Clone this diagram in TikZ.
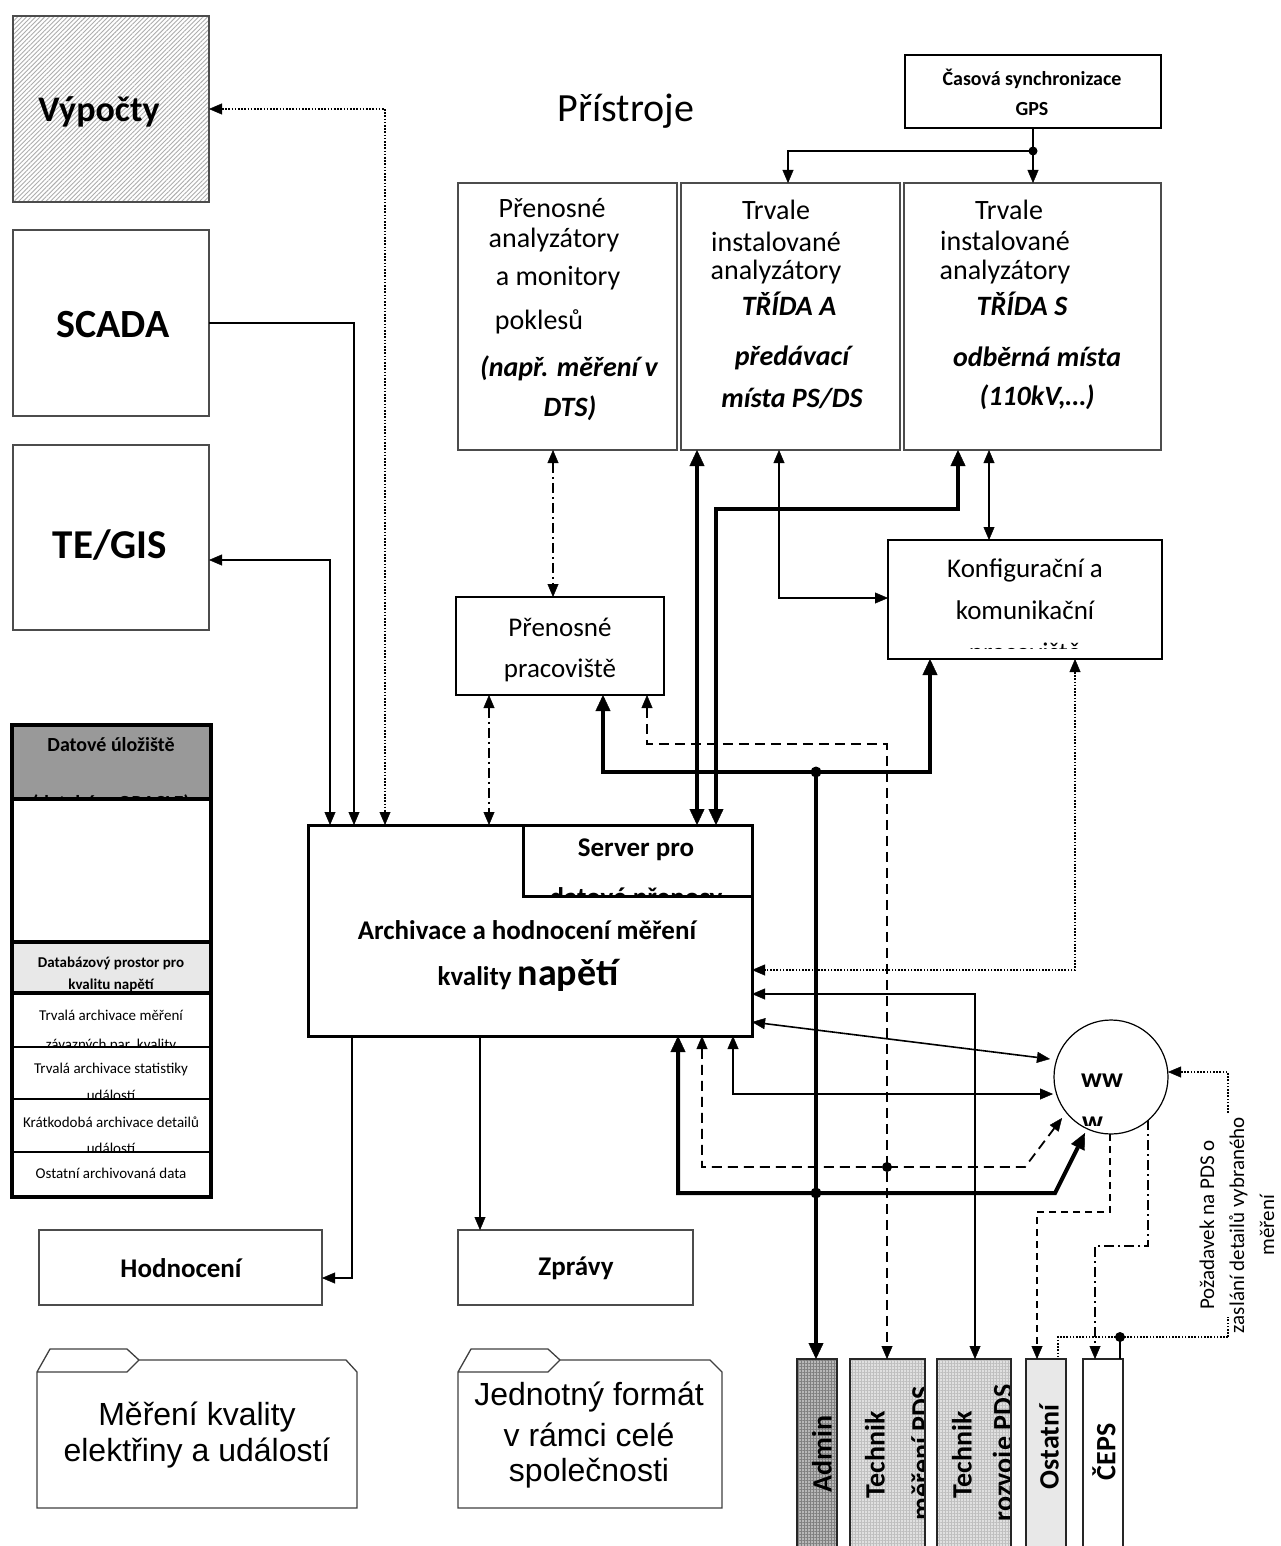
\documentclass[tikz,border=0pt]{standalone}
\usepackage{fontspec}
\setmainfont{Carlito}
\newfontfamily\arialf{Liberation Sans}
\usetikzlibrary{arrows.meta,patterns.meta}
\tikzset{
  Tn/.tip={Triangle[length=13pt,width=11pt,line width=0.4pt]},
  Tk/.tip={Triangle[length=16pt,width=15pt,line width=0.4pt]},
  boxbase/.style={rectangle, inner sep=0pt, outer sep=0pt},
  bxthin/.style={boxbase, draw=black!70, line width=1.3pt},
  bxmed/.style={boxbase, draw=black, line width=2pt},
  bxthk/.style={boxbase, draw=black, line width=3pt},
  bxheavy/.style={boxbase, draw=black, line width=4.5pt},
  ubox/.style={boxbase, draw=black!85, line width=2pt},
  txt/.style={inner sep=0pt, outer sep=0pt},
  lnthin/.style={line width=1.6pt},
  lnthk/.style={line width=4pt},
  lndash/.style={line width=1.8pt, dash pattern=on 10pt off 6pt},
  lndashs/.style={line width=1.8pt, dash pattern=on 7pt off 5pt},
  lndd/.style={line width=1.8pt, dash pattern=on 10pt off 4pt on 2pt off 4pt},
  lndot/.style={line width=1.6pt, dash pattern=on 1.6pt off 1.6pt},
}
\newcommand\fz[2]{\fontsize{#1}{#2}\selectfont}
\newcommand\bx[6][]{\node[#1, minimum width={(#5-#3)*1pt}, minimum height={(#6-#4)*1pt}] (#2) at ({(#3+#5)/2},{(#4+#6)/2}) {};}
\begin{document}
\begin{tikzpicture}[x=1pt,y=-1pt,line join=miter]
\useasboundingbox (0,0) rectangle (1280,1546);
\fill[white] (0,0) rectangle (1280,1546);

% ---------- boxes ----------
\bx[bxthin, pattern={Lines[angle=45,distance=3.2pt,line width=0.9pt]}, pattern color=black!32]{vyp}{13}{16}{209}{202}
\draw[black!70, line width=1.3pt] (vyp.south west) rectangle (vyp.north east);
\bx[bxthin]{scada}{13}{230}{209}{416}
\bx[bxthin]{tegis}{13}{445}{209}{630}
\bx[bxmed]{gps}{905}{55}{1161}{128}
\bx[bxthin]{pan}{458}{183}{677}{450}
\bx[bxthin]{tra}{681}{183}{900}{450}
\bx[bxthin]{trs}{904}{183}{1161}{450}
\bx[bxmed]{konf}{888}{540}{1162}{659}
\bx[bxmed]{ppr}{456}{597}{664}{695}
\bx[bxthk]{srv}{308}{825}{752}{1036}
\bx[bxthk]{srvp}{523}{825}{752}{896}
% data storage stack
\bx[bxheavy, fill=black!40]{dhead}{12}{725}{211}{799}
\bx[bxheavy]{dblank}{12}{799}{211}{942}
\bx[bxheavy, fill=black!9]{dbprost}{12}{942}{211}{993}
\bx[bxmed]{rA}{12}{993}{211}{1047}
\bx[bxmed]{rB}{12}{1047}{211}{1099}
\bx[bxmed]{rC}{12}{1099}{211}{1152}
\bx[bxmed]{rD}{12}{1152}{211}{1197}
\draw[line width=4.5pt] (rA.north west) rectangle (rD.south east);
\bx[bxthin]{hod}{39}{1230}{322}{1305}
\bx[bxthin]{zpr}{458}{1230}{693}{1305}
% folders
\draw[black!75, line width=1.3pt] (139,1360) -- (346,1360) -- (357,1372) -- (357,1508) -- (37,1508) -- (37,1372) -- (50,1349) -- (127,1349) -- (139,1360) -- (127,1372) -- (37,1372);
\draw[black!75, line width=1.3pt] (560,1360) -- (710,1360) -- (722,1372) -- (722,1508) -- (458,1508) -- (458,1372) -- (471,1349) -- (548,1349) -- (560,1360) -- (548,1372) -- (458,1372);
% user boxes
\bx[ubox, fill=black!28]{adm}{797}{1359}{837}{1560}
\bx[ubox, fill=black!12]{tm}{850}{1359}{925}{1560}
\bx[ubox, fill=black!12]{tr}{937}{1359}{1011}{1560}
\bx[ubox, fill=black!9]{ost}{1026}{1359}{1066}{1560}
\bx[ubox]{ceps}{1083}{1359}{1123}{1560}
\fill[pattern={Hatch[distance=3pt,line width=0.5pt]}, pattern color=black!50] (adm.south west) rectangle (adm.north east);
\fill[pattern={Hatch[distance=3pt,line width=0.5pt]}, pattern color=black!25] (tm.south west) rectangle (tm.north east);
\fill[pattern={Hatch[distance=3pt,line width=0.5pt]}, pattern color=black!25] (tr.south west) rectangle (tr.north east);
\foreach \n in {adm,tm,tr} {\draw[black!85, line width=2pt] (\n.south west) rectangle (\n.north east);}
% www
\node[draw, circle, minimum size=114pt, inner sep=0pt, outer sep=0pt, line width=1.2pt] (www) at (1111,1077) {};

% ---------- connector ports ----------
\coordinate (s330) at (330,825);
\coordinate (s354) at (354,825);
\coordinate (s385) at (385,825);
\coordinate (s489) at (489,825);
\coordinate (s697) at (697,825);
\coordinate (s716) at (716,825);
\coordinate (tgE) at (209,560);
\coordinate (panB) at (553,450);
\coordinate (pprT) at (553,597);
\coordinate (pprB1) at (489,695);
\coordinate (pprB2) at (603,695);
\coordinate (pprB3) at (647,695);
\coordinate (traB1) at (697,450);
\coordinate (traB2) at (779,450);
\coordinate (trsB1) at (958,450);
\coordinate (trsB2) at (989,450);
\coordinate (konT) at (989,540);
\coordinate (konL) at (888,598);
\coordinate (konB1) at (930,659);
\coordinate (konB2) at (1075,659);
\coordinate (gpsJ) at (1033,151);
\coordinate (traT) at (788,183);
\coordinate (trsT) at (1033,183);
\coordinate (srvR1) at (752,970);
\coordinate (srvR2) at (752,994);
\coordinate (srvR3) at (752,1022);
\coordinate (srvB1) at (678,1036);
\coordinate (srvB2) at (702,1036);
\coordinate (srvB3) at (733,1036);
\coordinate (srvB4) at (352,1036);
\coordinate (srvB5) at (480,1036);
\coordinate (hodE) at (322,1278);
\coordinate (zprT) at (480,1230);
\coordinate (wA) at (1050,1059);
\coordinate (wB) at (1053,1094);
\coordinate (wC) at (1062,1118);
\coordinate (wD) at (1085,1133);
\coordinate (wE) at (1110,1134);
\coordinate (wF) at (1148,1120);
\coordinate (wG) at (1168,1072);
\coordinate (admT) at (816,1359);
\coordinate (tmT) at (887,1359);
\coordinate (trT) at (975,1359);
\coordinate (ostT) at (1037,1359);
\coordinate (ostT2) at (1058,1359);
\coordinate (cepT) at (1095,1359);
\coordinate (cepT2) at (1120,1359);
\coordinate (jA) at (816,772);
\coordinate (jB) at (816,1193);
\coordinate (jC) at (887,1167);
\coordinate (jD) at (1120,1337);

% ---------- connectors ----------
\draw[lndot, Tn-Tn] (vyp.east) -| (s385);
\draw[lnthin, -Tn] (scada.east) -| (s354);
\draw[lnthin, Tn-Tn] (tgE) -| (s330);
\draw[lndd, Tn-Tn] (panB) -- (pprT);
\draw[lndd, Tn-Tn] (pprB1) -- (s489);
\draw[lnthk, Tk-Tk] (traB1) -- (s697);
\draw[lnthk, Tk-Tk] (s716) |- (958,509) -- (trsB1);
\draw[lnthin, Tn-Tn] (traB2) |- (konL);
\draw[lnthin, Tn-Tn] (trsB2) -- (konT);
\draw[lnthin] (gps.south) -- (gpsJ);
\draw[lnthin, -Tn] (gpsJ) -- (trsT);
\draw[lnthin, -Tn] (gpsJ) -| (traT);
\fill (gpsJ) circle (4.5pt);
\draw[lnthk, Tk-Tk] (pprB2) |- (930,772) -- (konB1);
\draw[lnthk, -Tk] (jA) -- (admT);
\fill (jA) circle (5.5pt);
\draw[lndash, Tn-Tn] (pprB3) |- (887,744) -- (tmT);
\draw[lndot, Tn-Tn] (konB2) |- (srvR1);
\draw[lnthin, Tn-Tn] (srvR2) -| (trT);
\draw[lnthin, Tn-Tn] (srvR3) -- (wA);
\draw[lnthin, Tn-Tn] (srvB3) |- (wB);
\draw[lndash, Tn-Tn] (srvB2) |- (1025,1167) -- (wC);
\fill (jC) circle (5pt);
\draw[lnthk, Tk-Tk] (srvB1) |- (1055,1193) -- (wD);
\fill (jB) circle (5.5pt);
\draw[lnthin, -Tn] (srvB4) |- (hodE);
\draw[lnthin, -Tn] (srvB5) -- (zprT);
\draw[lndashs, -Tn] (wE) |- (1037,1212) -- (ostT);
\draw[lndd, -Tn] (wF) |- (1095,1246) -- (cepT);
\draw[lndot, -Tn] (1228,1337) |- (wG);
\draw[lndot] (1228,1337) -- (1058,1337) -- (ostT2);
\draw[lnthin] (jD) -- (cepT2);
\fill (jD) circle (5pt);

% ---------- texts ----------
\node[txt, anchor=base, font=\fz{36}{40}\bfseries] (tVyp) at (99,122) {Výpočty};
\node[txt, anchor=base, font=\fz{40}{44}\bfseries] (tScada) at (113,337) {SCADA};
\node[txt, anchor=base, font=\fz{41}{44}\bfseries] (tTe) at (110,558) {TE/GIS};
\node[txt, anchor=base, font=\fz{40}{44}] (tPri) at (626,122) {Přístroje};
\node[txt, anchor=base, font=\fz{20}{24}\bfseries] (tGps1) at (1032,86) {Časová synchronizace};
\node[txt, anchor=base, font=\fz{20}{24}\bfseries] (tGps2) at (1032,116) {GPS};

\tikzset{f28/.style={txt, font=\fz{28}{32}}, f28bi/.style={txt, font=\fz{28}{32}\bfseries\itshape}}
\node[f28] (pa1) at (552,208) {Přenosné};
\node[f28] (pa2) at (554,240) {analyzátory};
\node[f28] (pa3) at (558,278) {a monitory};
\node[f28] (pa4) at (539,322) {poklesů};
\node[f28bi] (pa5) at (569,368) {(např. měření v};
\node[f28bi] (pa6) at (570,408) {DTS)};
\node[f28] (ta1) at (776,210) {Trvale};
\node[f28] (ta2) at (776,242) {instalované};
\node[f28] (ta3) at (776,272) {analyzátory};
\node[f28bi] (ta4) at (789,304) {TŘÍDA A};
\node[f28bi] (ta5) at (792,358) {předávací};
\node[f28bi] (ta6) at (792,398) {místa PS/DS};
\node[f28] (ts1) at (1009,210) {Trvale};
\node[f28] (ts2) at (1005,241) {instalované};
\node[f28] (ts3) at (1005,272) {analyzátory};
\node[f28bi] (ts4) at (1022,304) {TŘÍDA S};
\node[f28bi] (ts5) at (1037,357) {odběrná místa};
\node[f28bi] (ts6) at (1037,397) {(110kV,…)};

\node[txt, font=\fz{27}{32}] (kf1) at (1025,570) {Konfigurační a};
\node[txt, font=\fz{27}{32}] (kf2) at (1025,610) {komunikační};
\begin{scope}
\clip (890,620) rectangle (1160,648);
\node[txt, font=\fz{27}{32}] (kf3) at (1025,654) {pracoviště};
\end{scope}
\node[txt, font=\fz{27}{32}] (pp1) at (560,627) {Přenosné};
\node[txt, font=\fz{27}{32}] (pp2) at (560,670) {pracoviště};

\node[txt, font=\fz{27}{32}\bfseries] (sv1) at (636,850) {Server pro};
\begin{scope}
\clip (526,860) rectangle (750,894);
\node[txt, font=\fz{27}{32}\bfseries] (sv2) at (636,899) {datové přenosy};
\end{scope}
\node[txt, font=\fz{27}{32}\bfseries] (ar1) at (527,930) {Archivace a hodnocení měření};
\node[txt, anchor=base, font=\fz{27}{32}\bfseries] (ar2) at (528,985) {kvality {\fz{38}{42}napětí}};

\node[txt, font=\fz{20}{24}\bfseries] (dh1) at (111,745) {Datové úložiště};
\begin{scope}
\clip (15,770) rectangle (208,797);
\node[txt, font=\fz{20}{24}\bfseries] (dh2) at (111,804) {(databáze ORACLE)};
\end{scope}
\node[txt, font=\fz{15}{18}\bfseries] (db1) at (111,963) {Databázový prostor pro};
\node[txt, font=\fz{15}{18}\bfseries] (db2) at (111,985) {kvalitu napětí};
\tikzset{f15/.style={txt, font=\fz{15}{18}}}
\node[f15] (ra1) at (111,1015) {Trvalá archivace měření};
\node[f15] (rb1) at (111,1069) {Trvalá archivace statistiky};
\node[f15] (rc1) at (111,1122) {Krátkodobá archivace detailů};
\node[f15] (rd1) at (111,1173) {Ostatní archivovaná data};
\begin{scope}
\clip (14,1030) rectangle (209,1045);
\node[f15] (ra2) at (111,1045) {závazných par. kvality};
\end{scope}
\begin{scope}
\clip (14,1080) rectangle (209,1097);
\node[f15] (rb2) at (111,1095) {událostí};
\end{scope}
\begin{scope}
\clip (14,1133) rectangle (209,1150);
\node[f15] (rc2) at (111,1148) {událostí};
\end{scope}

\node[txt, font=\fz{27}{32}\bfseries] (th) at (181,1268) {Hodnocení};
\node[txt, font=\fz{27}{32}\bfseries] (tz) at (576,1268) {Zprávy};

\node[txt, font=\arialf\fz{32}{36}] (fa1) at (197,1417) {Měření kvality};
\node[txt, font=\arialf\fz{32}{36}] (fa2) at (197,1453) {elektřiny a událostí};
\node[txt, font=\arialf\fz{32}{36}] (fb1) at (589,1397) {Jednotný formát};
\node[txt, font=\arialf\fz{32}{36}] (fb2) at (589,1435) {v rámci celé};
\node[txt, font=\arialf\fz{32}{36}] (fb3) at (589,1473) {společnosti};

\tikzset{ut/.style={txt, rotate=90, font=\fz{28}{32}\bfseries}}
\node[ut] (uA) at (822,1454) {Admin};
\node[ut] (uT1) at (875,1455) {Technik};
\node[ut] (uT3) at (962,1455) {Technik};
\node[ut] (uO) at (1049,1447) {Ostatní};
\node[ut] (uC) at (1104,1452) {ČEPS};
\begin{scope}
\clip (851,1360) rectangle (923,1546);
\node[ut] (uT2) at (921,1453) {měření PDS};
\end{scope}
\begin{scope}
\clip (938,1360) rectangle (1009,1546);
\node[ut] (uT4) at (1005,1453) {rozvoje PDS};
\end{scope}

\node[txt, font=\fz{28}{32}\bfseries] (ww1) at (1102,1081) {ww};
\begin{scope}
\clip (1060,1100) rectangle (1165,1125);
\node[txt, anchor=west, font=\fz{28}{32}\bfseries] (ww2) at (1082,1124) {w};
\end{scope}

\fill[white] (1192,1115) rectangle (1282,1317);
\node[txt, rotate=90, align=center, font=\fz{21}{30}] (req) at (1237,1225) {Požadavek na PDS o\\zaslání detailů vybraného\\měření};
\end{tikzpicture}
\end{document}
